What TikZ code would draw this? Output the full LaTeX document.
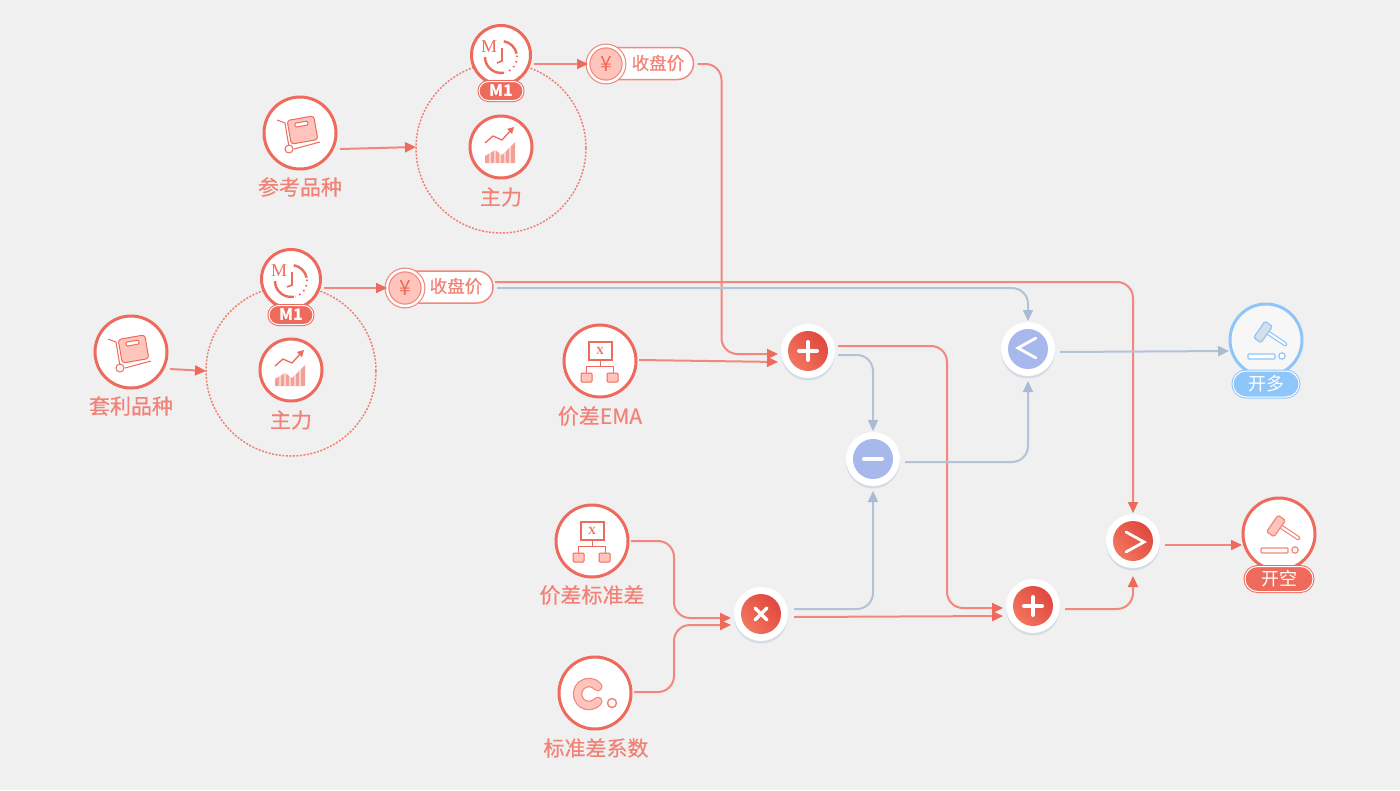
\documentclass[tikz,border=0pt]{standalone}
\usepackage{fontspec}
\setmainfont{Noto Sans CJK SC}
\newfontfamily\labf{Noto Sans CJK SC}[FakeBold=0.4]
\newfontfamily\serifm{Liberation Serif}
\usetikzlibrary{arrows.meta,shapes.misc,shadows}
\definecolor{bgc}{HTML}{F0F0F0}
\definecolor{redc}{HTML}{EE6A5C}
\definecolor{redl}{HTML}{F2887D}
\definecolor{pale}{HTML}{FFC4BC}
\definecolor{labc}{HTML}{F28176}
\definecolor{bluel}{HTML}{B4C2D8}
\definecolor{bluet}{HTML}{A9BBD3}
\definecolor{opblue}{HTML}{A6B8EC}
\definecolor{skyc}{HTML}{8FC6FA}
\definecolor{grayh}{HTML}{D3DFEA}
\definecolor{gradA}{HTML}{F2755F}
\definecolor{gradB}{HTML}{E0483E}
\definecolor{offw}{HTML}{F8F7F8}
\newcommand\lsize[1]{\fontsize{#1}{#1}\selectfont}
\tikzset{
  x=1pt,y=-1pt,
  src/.style={circle,draw=redc,line width=3pt,fill=white,minimum size=72pt,inner sep=0pt,outer sep=0pt},
  lab/.style={text=labc,font=\labf\lsize{21},inner sep=0pt},
  ring/.style={circle,draw=redc!85,line width=1.5pt,dash pattern=on 2pt off 1.5pt,minimum size=170pt,inner sep=0pt,outer sep=0pt},
  badge/.style={rounded rectangle,draw=#1,fill=#1,double=white,double distance=1pt,line width=1pt,minimum height=19pt,inner sep=0pt,outer sep=0pt,text=white},
  pill/.style={rounded rectangle,draw=redl,line width=1.5pt,fill=white,minimum width=105pt,minimum height=32pt,inner sep=0pt,outer sep=0pt},
  yencirc/.style={circle,draw=redl,line width=1.2pt,fill=pale,double=white,double distance=2.5pt,minimum size=36pt,inner sep=0pt,outer sep=0pt,text=redc,font=\lsize{21}},
  opring/.style={circle,fill=white,minimum size=54pt,inner sep=0pt,outer sep=0pt,drop shadow={shadow xshift=0pt,shadow yshift=-2.5pt,opacity=.45,fill=bluel}},
  redgrad/.style={left color=gradA,right color=gradB,shading angle=130},
  opsym/.style={draw=white,line cap=round},
  rl/.style={draw=redl,line width=2pt,rounded corners=16pt,-{Triangle[length=11pt,width=10pt,color=redc]}},
  bl/.style={draw=bluel,line width=2pt,rounded corners=16pt,-{Triangle[length=11pt,width=10pt,color=bluet]}},
  iconline/.style={draw=redc,line width=1pt},
  iconcart/.pic={
    \draw[iconline,fill=pale,rounded corners=3pt,rotate around={10:(2.5,-3)}] (-11,-15) rectangle (16,9);
    \draw[iconline,fill=white,rounded corners=1pt,rotate around={10:(2.5,-3)}] (-4,-11) rectangle (9,-7);
    \draw[iconline] (-23,-13) -- (-15,-10) -- (-11,14);
    \draw[iconline] (-6,16) -- (20,9);
    \draw[iconline,fill=white] (-11,16) circle[radius=4];
  },
  iconclock/.pic={
    \draw[redc,line width=2.4pt] ([shift={(0,2)}]-80:16) arc[start angle=-80,end angle=-12,radius=16];
    \draw[redc,line width=2.4pt] ([shift={(0,2)}]80:16) arc[start angle=80,end angle=180,radius=16];
    \draw[redc,line width=1.8pt,dash pattern=on 1.5pt off 4pt] ([shift={(0,2)}]-5:16) arc[start angle=-5,end angle=75,radius=16];
    \draw[redc,line width=1.6pt] (1,-7) -- (1,6) -- (-4,8);
    \node[inner sep=0pt,text=redc,font=\serifm\lsize{18}] at (-12,-8) {M};
  },
  iconchart/.pic={
    \fill[redl!80] (-16,16) -- (-16,9) -- (-6,3) -- (1,8) -- (14,-5) -- (14,16) -- cycle;
    \foreach \k in {-12,-7,-2,3,8} \fill[white,opacity=.55] (\k,-6) rectangle (\k+1.5,16);
    \draw[iconline,line width=1.3pt] (-16,-4) -- (-8,-11) -- (1,-7) -- (11,-18);
    \fill[redc] (13,-20) -- (6,-18) -- (11,-13) -- cycle;
  },
  iconhier/.pic={
    \draw[iconline,line width=1.2pt,fill=white] (-11,-19) rectangle (12,-1);
    \node[inner sep=0pt,text=redc,font=\serifm\bfseries\lsize{11}] at (0,-10) {X};
    \draw[iconline] (0,-1) -- (0,5) (-14,12) -- (-14,5) -- (13,5) -- (13,12);
    \draw[iconline,fill=pale,rounded corners=1pt] (-19,12) rectangle (-8,21);
    \draw[iconline,fill=pale,rounded corners=1pt] (7,12) rectangle (18,21);
  },
  iconc/.pic={
    \draw[redl,line width=9.5pt,line cap=round] ([shift={(-6,1)}]-40:11.5) arc[start angle=-40,end angle=-320,radius=11.5];
    \draw[pale,line width=7pt,line cap=round] ([shift={(-6,1)}]-40:11.5) arc[start angle=-40,end angle=-320,radius=11.5];
    \draw[redl,line width=1.5pt,fill=white] (17,10) circle[radius=4.5];
  },
  icongavel/.pic={
    \draw[#1,line width=4.5pt,line cap=round] (1,-8) -- (19,4);
    \draw[white,line width=2pt,line cap=round] (1,-8) -- (19,4);
    \draw[#1,line width=1.2pt,fill=gvfill,rounded corners=1.5pt,rotate around={-35:(-3,-8)}] (-7.5,-18) rectangle (1.5,2);
    \draw[#1,line width=1.2pt,fill=white,rounded corners=1pt] (-18,14) rectangle (9,19);
    \draw[#1,line width=1.2pt,fill=white] (16,16) circle[radius=3.2];
  },
}
\newcommand\opnode[3]{\node[opring] (#1) at (#2) {};\shade[#3] (#1.center) circle[radius=20];}
\newcommand\opflat[2]{\node[opring] (#1) at (#2) {};\fill[opblue] (#1.center) circle[radius=20];}
\begin{document}
\begin{tikzpicture}
\useasboundingbox[fill=bgc] (0,0) rectangle (1400,790);

% upper group
\node[ring] (ringA) at (501,148) {};
\node[src] (refs) at (300,133) {};
\pic at (refs.center) {iconcart};
\node[lab] (refsl) at (300,187) {参考品种};
\node[src,minimum size=59pt] (clockA) at (501,55) {};
\pic at (clockA.center) {iconclock};
\node[badge=redc,minimum width=44pt,font=\bfseries\lsize{16}] (m1A) at (501,91) {M1};
\node[src,minimum size=62pt] (mainA) at (501,147) {};
\pic at (mainA.center) {iconchart};
\node[lab] (mainAl) at (501,197) {主力};
\node[pill] (pillA) at (641,63.5) {};
\node[inner sep=0pt,text=labc,font=\labf\lsize{17.5}] (pillAt) at (658,63) {收盘价};
\node[yencirc] (yenA) at (606,64) {¥};

% lower group
\node[ring] (ringB) at (291,371) {};
\node[src] (arb) at (131,352) {};
\pic at (arb.center) {iconcart};
\node[lab] (arbl) at (131,406) {套利品种};
\node[src,minimum size=59pt] (clockB) at (291,279) {};
\pic at (clockB.center) {iconclock};
\node[badge=redc,minimum width=44pt,font=\bfseries\lsize{16}] (m1B) at (291,315) {M1};
\node[src,minimum size=62pt] (mainB) at (291,370) {};
\pic at (mainB.center) {iconchart};
\node[lab] (mainBl) at (291,420) {主力};
\node[pill] (pillB) at (440.5,287) {};
\node[inner sep=0pt,text=labc,font=\labf\lsize{17.5}] (pillBt) at (456,286) {收盘价};
\node[yencirc] (yenB) at (405,288) {¥};

% sources
\node[src] (ema) at (600,361) {};
\pic at (ema.center) {iconhier};
\node[lab] (emal) at (600,416) {价差EMA};
\node[src] (std) at (592,541) {};
\pic at (std.center) {iconhier};
\node[lab] (stdl) at (592,595) {价差标准差};
\node[src] (coef) at (595,693) {};
\pic at (coef.center) {iconc};
\node[lab] (coefl) at (596,748) {标准差系数};

% operators
\opnode{plusA}{808,351}{redgrad}
\draw[opsym,line width=4pt] (799,351) -- (817,351) (808,342) -- (808,360);
\opflat{minus}{873,459}
\draw[opsym,line width=4pt] (864,459) -- (882,459);
\opflat{opLt}{1028,349}
\draw[opsym,line width=2.8pt] (1036,338) -- (1018,348) -- (1036,358);
\opnode{opGt}{1133,541}{redgrad}
\draw[opsym,line width=2.8pt] (1126,532) -- (1144,542) -- (1126,552);
\opnode{plusB}{1033,606}{redgrad}
\draw[opsym,line width=4pt] (1024,606) -- (1042,606) (1033,597) -- (1033,615);
\opnode{times}{761,614}{redgrad}
\draw[opsym,line width=3.5pt] (755,608) -- (767,620) (767,608) -- (755,620);

% results
\colorlet{gvfill}{grayh}
\node[src,draw=skyc,fill=offw] (long) at (1266,340) {};
\pic at (long.center) {icongavel=skyc};
\node[badge=skyc,minimum width=66pt,minimum height=26pt,font=\lsize{18}] (longb) at (1266,384) {开多};
\colorlet{gvfill}{pale}
\node[src] (short) at (1279,534) {};
\pic at (short.center) {icongavel=redl};
\node[badge=redc,minimum width=68pt,minimum height=25pt,font=\lsize{18}] (shortb) at (1279,579) {开空};

% connectors
\draw[rl] ([shift={(4,16)}]refs.east) -- ([shift={(0,-1)}]ringA.west);
\draw[rl] ([shift={(3,17)}]arb.east) -- (ringB.west);
\draw[rl] ([shift={(3,9)}]clockA.east) -- (yenA.west);
\draw[rl] ([shift={(3,9)}]clockB.east) -- (yenB.west);
\draw[rl] ([shift={(4,0.5)}]pillA.east) -- ++(24,0) |- ([shift={(-3,3)}]plusA.west);
\draw[rl] ([shift={(3,-1)}]ema.east) -- ([shift={(-3,11)}]plusA.west);
\draw[rl] ([shift={(3,-5)}]plusA.east) -- ++(109,0) |- ([shift={(-3,2)}]plusB.west);
\draw[bl] ([shift={(3,4)}]plusA.east) -| ([shift={(0,-1)}]minus.north);
\draw[bl] ([shift={(5,3)}]minus.east) -| ([shift={(0,5)}]opLt.south);
\draw[bl] ([shift={(6,-5)}]times.east) -| ([shift={(0,5)}]minus.south);
\draw[bl] ([shift={(4,1)}]pillB.east) -| ([shift={(0,-1)}]opLt.north);
\draw[rl] ([shift={(2,-5)}]pillB.east) -| ([shift={(0,-1)}]opGt.north);
\draw[bl] ([shift={(5,3)}]opLt.east) -- ([shift={(-1,11)}]long.west);
\draw[rl] ([shift={(5,4)}]opGt.east) -- ([shift={(-1,11)}]short.west);
\draw[rl] ([shift={(5,3)}]plusB.east) -| ([shift={(0,8)}]opGt.south);
\draw[rl] ([shift={(6,3)}]times.east) -- ([shift={(-3,10)}]plusB.west);
\draw[rl] ([shift={(3,0)}]std.east) -- ++(43,0) |- ([shift={(-3,4)}]times.west);
\draw[rl] ([shift={(3,-1)}]coef.east) -- ++(40,0) |- ([shift={(-3,11)}]times.west);
\end{tikzpicture}
\end{document}
